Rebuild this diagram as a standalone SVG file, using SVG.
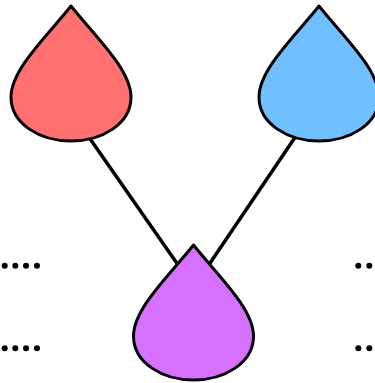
<svg xmlns="http://www.w3.org/2000/svg" width="375" height="383" viewBox="0 0 375 383">
<style>
.drop{stroke:#000;stroke-width:3;stroke-linejoin:round}
.edge{stroke:#000;stroke-width:3.5;fill:none}
.dot{fill:#000}
</style>
<defs>
<path id="dropShape" d="M0,0 C-22,28 -60,63 -60,91 C-60,118 -31,135 0,135 C31,135 60,118 60,91 C60,63 22,28 0,0 Z"/>
</defs>
<g id="connectors">
<line class="edge" x1="86" y1="133" x2="183" y2="272"/>
<line class="edge" x1="298" y1="133" x2="204" y2="272"/>
</g>
<g id="node-red">
<use href="#dropShape" class="drop" fill="#ff7070" transform="translate(71,6)"/>
</g>
<g id="node-blue">
<use href="#dropShape" class="drop" fill="#70c0ff" transform="translate(319,6)"/>
</g>
<g id="node-purple">
<use href="#dropShape" class="drop" fill="#d670ff" transform="translate(193.5,245)"/>
</g>
<g id="dots">
<circle class="dot" cx="4.7" cy="265.7" r="3"/>
<circle class="dot" cx="15.3" cy="265.7" r="3"/>
<circle class="dot" cx="26" cy="265.7" r="3"/>
<circle class="dot" cx="37" cy="265.7" r="3"/>
<circle class="dot" cx="4.7" cy="348.3" r="3"/>
<circle class="dot" cx="15.3" cy="348.3" r="3"/>
<circle class="dot" cx="26" cy="348.3" r="3"/>
<circle class="dot" cx="37" cy="348.3" r="3"/>
<circle class="dot" cx="358.3" cy="265.7" r="3"/>
<circle class="dot" cx="369.3" cy="265.7" r="3"/>
<circle class="dot" cx="358.3" cy="348.3" r="3"/>
<circle class="dot" cx="369.3" cy="348.3" r="3"/>
</g>
</svg>
